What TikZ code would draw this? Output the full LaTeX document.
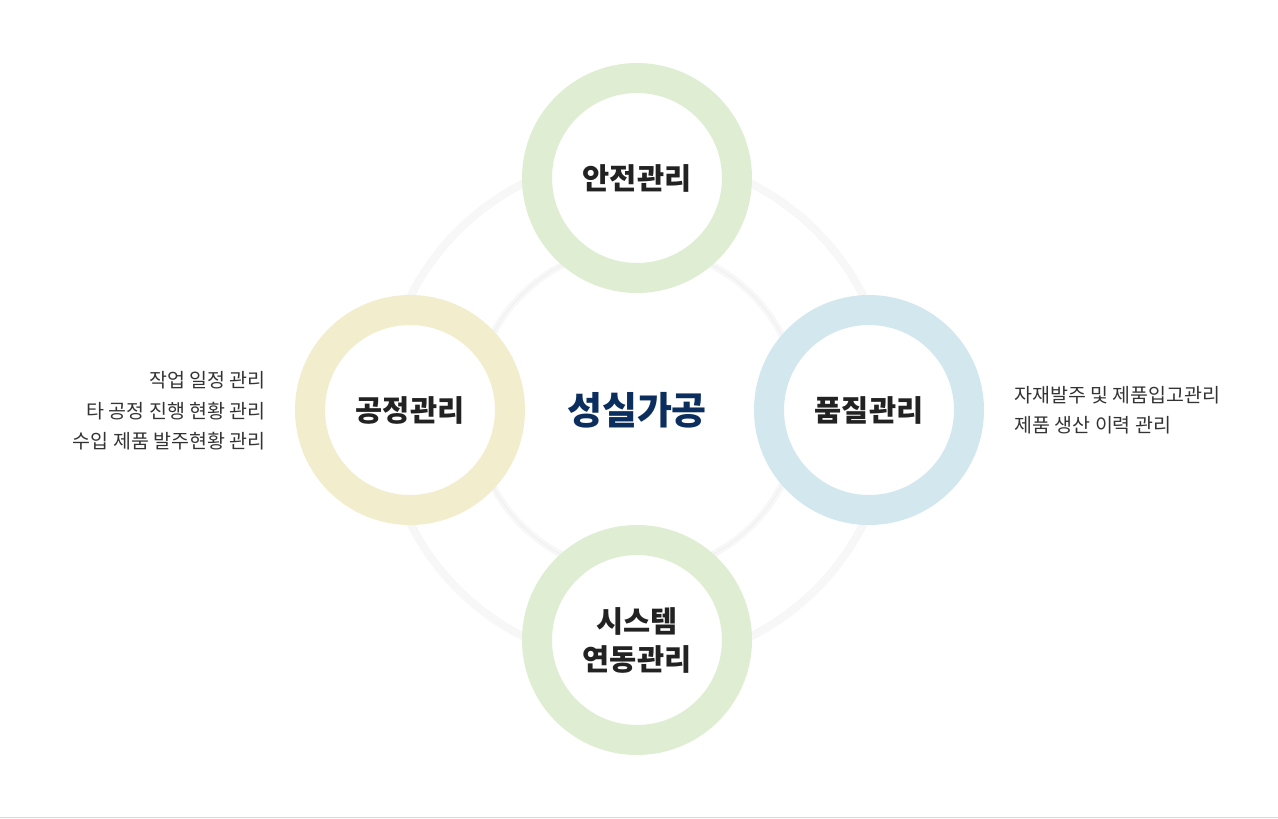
\documentclass[tikz,border=0pt]{standalone}
\usepackage{fontspec}
\newfontfamily\kr{Noto Sans CJK KR}
\usetikzlibrary{positioning}
\definecolor{ringgreen}{RGB}{223,238,211}
\definecolor{ringyellow}{RGB}{242,237,205}
\definecolor{ringblue}{RGB}{210,231,238}
\definecolor{navy}{RGB}{11,46,94}
\definecolor{labelblack}{RGB}{34,34,34}
\definecolor{notegray}{RGB}{51,51,51}
\definecolor{rulegray}{RGB}{216,216,216}

\begin{document}
\begin{tikzpicture}[x=1pt,y=-1pt,
    ring/.style={circle,line width=30pt,minimum size=200pt,inner sep=0pt,fill=white,
        font=\kr\bfseries\fontsize{29.5}{38}\selectfont,text=labelblack,align=center},
    note/.style={font=\kr\fontsize{19.5}{30.5}\selectfont,text=notegray},
    halo/.style={draw=black,opacity=0.022}]
        \useasboundingbox (0,0) rectangle (1278,819);
        % Background circles with soft shadow
        \coordinate (c) at (637,410);
        \foreach \r in {251,252,...,257} \draw[halo,line width=1.2pt] (c) circle (\r);
        \draw[fill=white,draw=black!5,line width=0.6pt] (c) circle (250);
        \foreach \r in {160,161,...,166} \draw[halo,line width=1.2pt] (c) circle (\r);
        \draw[draw=black!6,line width=0.8pt] (c) circle (163);
        % Rings
        \node[ring,draw=ringgreen] (safety) at (637,178) {안전관리};
        \node[ring,draw=ringyellow] (process) at (410,410) {공정관리};
        \node[ring,draw=ringblue] (quality) at (869,410) {품질관리};
        \node[ring,draw=ringgreen] (system) at (637,640) {시스템\\연동관리};
        % Center
        \node[font=\kr\bfseries\fontsize{38}{44}\selectfont,text=navy] (title) at (c) {성실가공};
        % Notes
        \node[note,align=right,anchor=east] (processnote) at (269,411) {작업 일정 관리\\타 공정 진행 현황 관리\\수입 제품 발주현황 관리};
        \node[note,align=left,anchor=west] (qualitynote) at (1011,410) {자재발주 및 제품입고관리\\제품 생산 이력 관리};
        % Bottom rule
        \draw[rulegray,line width=1.5pt] (0,817.5) -- (1278,817.5);
\end{tikzpicture}
\end{document}
